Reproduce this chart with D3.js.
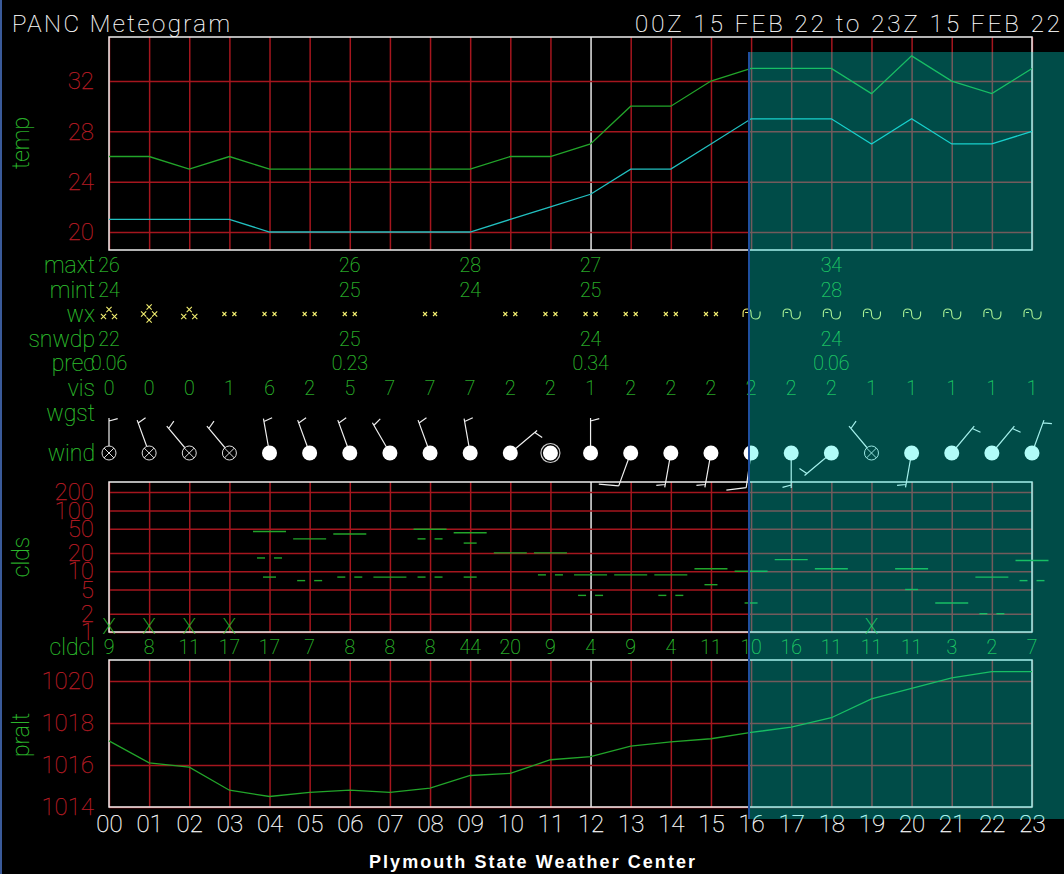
<!DOCTYPE html>
<html>
<head>
<meta charset="utf-8">
<script src="https://cdn.jsdelivr.net/npm/d3@7"></script>
<style>
html, body { margin: 0; padding: 0; background: #000; }
svg { display: block; }
text { font-family: Roboto, "Open Sans", sans-serif; font-weight: 100; }
.grid line { stroke: #a5161e; stroke-width: 1.5; }
.grid .noon line { stroke: #d8d8d8; stroke-width: 1.6; }
.grid .domain { display: none; }
.grid text { fill: #b81c24; font-size: 24px; stroke: #b81c24; stroke-width: 0.25; }
.grid.hours text { fill: #fff; stroke: #fff; }
.row { fill: #2fc02f; font-size: 19.5px; text-anchor: middle; stroke: #2fc02f; stroke-width: 0.2; }
.rowlabel { fill: #2fc02f; font-size: 23px; text-anchor: end; stroke: #2fc02f; stroke-width: 0.2; }
.title { fill: #fff; stroke: #fff; stroke-width: 0.2; font-size: 24px; }
.frame { fill: none; stroke: #eee; stroke-width: 1.5; }
</style>
</head>
<body>
<svg id="chart"></svg>
<script>
const width = 1064;
const height = 874;

const hours = d3.range(24);
const tempTicks = [20, 24, 28, 32];
const cloudTicks = [1, 2, 5, 10, 20, 50, 100, 200];
const presTicks = [1014, 1016, 1018, 1020];

const temp = [26, 26, 25, 26, 25, 25, 25, 25, 25, 25, 26, 26, 27, 30, 30, 32, 33, 33, 33, 31, 34, 32, 31, 33];
const dewp = [21, 21, 21, 21, 20, 20, 20, 20, 20, 20, 21, 22, 23, 25, 25, 27, 29, 29, 29, 27, 29, 27, 27, 28];
const pralt = [1017.15, 1016.1, 1015.9, 1014.8, 1014.5, 1014.7, 1014.8, 1014.7, 1014.9, 1015.5, 1015.6, 1016.25,
    1016.4, 1016.9, 1017.1, 1017.25, 1017.55, 1017.8, 1018.25, 1019.15, 1019.65, 1020.15, 1020.45, 1020.45];

const summaryHours = [0, 6, 9, 12, 18];
const maxt = ['26', '26', '28', '27', '34'];
const mint = ['24', '25', '24', '25', '28'];
const snwdpHours = [0, 6, 12, 18];
const snwdp = ['22', '25', '24', '24'];
const prec = ['0.06', '0.23', '0.34', '0.06'];

const wx = ['SN', '+SN', 'SN', '-SN', '-SN', '-SN', '-SN', '', '-SN', '', '-SN', '-SN', '-SN', '-SN', '-SN', '-SN',
    'FG', 'FG', 'FG', 'FG', 'FG', 'FG', 'FG', 'FG'];
const vis = [0, 0, 0, 1, 6, 2, 5, 7, 7, 7, 2, 2, 1, 2, 2, 2, 2, 2, 2, 1, 1, 1, 1, 1];
const cldcl = [9, 8, 11, 17, 17, 7, 8, 8, 8, 44, 20, 9, 4, 9, 4, 11, 10, 16, 11, 11, 11, 3, 2, 7];

const windDir = [360, 340, 320, 320, 350, 340, 340, 330, 340, 350, 50, 0, 360, 200, 190, 190, 188, 180, 230, 320, 190, 40, 40, 20];
const windSpd = [5, 5, 5, 5, 5, 5, 5, 5, 5, 5, 5, 0, 5, 10, 5, 5, 10, 5, 5, 5, 5, 5, 5, 5];
const obscured = [0, 1, 2, 3, 19];

const cloudHour = [4, 4, 4, 5, 5, 6, 6, 7, 8, 8, 8, 9, 9, 9, 10, 11, 11, 12, 12, 13, 14, 14, 15, 15, 16, 16, 17, 18, 20, 20, 21, 22, 22, 23, 23];
const cloudBase = [45, 16.5, 8, 34, 7, 41, 8, 8, 49, 34, 8, 43, 29, 8, 20, 20, 8.7, 8.7, 4, 8.7, 8.7, 4, 11, 6, 10, 3, 15.5, 11, 11, 5, 3, 8, 2, 15, 7];
const cloudCover = ['ovc', 'sct', 'few', 'ovc', 'sct', 'ovc', 'sct', 'ovc', 'ovc', 'sct', 'sct', 'ovc', 'few', 'few', 'ovc', 'ovc', 'sct', 'ovc', 'sct', 'ovc', 'ovc', 'sct',
    'ovc', 'few', 'ovc', 'few', 'ovc', 'ovc', 'ovc', 'few', 'ovc', 'ovc', 'sct', 'ovc', 'sct'];

const green = '#2fc02f';
const tempColor = '#22a52a';
const dewColor = '#22c0c0';
const flakeColor = '#f2ee70';

let svg = d3.select('#chart').attr('width', width).attr('height', height);

let xScale = d3.scaleLinear().domain([0, 23]).range([109, 1032]);
let tempScale = d3.scaleLinear().domain([18.57, 35.5]).range([250, 37]);
let cloudScale = d3.scaleLog().domain([1, 293]).range([632, 482]);
let presScale = d3.scaleLinear().domain([1014, 1021]).range([807, 660]);

let drawPanel = (yScale, ticks, format, showHours) => {
    let top = yScale.range()[1];
    let bottom = yScale.range()[0];
    let xAxis = d3.axisBottom(xScale)
        .tickValues(hours)
        .tickSize(-(bottom - top))
        .tickPadding(8)
        .tickFormat(showHours ? d3.format('02') : '');
    let gx = svg.append('g')
        .attr('class', showHours ? 'grid hours' : 'grid')
        .attr('transform', 'translate(0,' + bottom + ')')
        .call(xAxis);
    gx.selectAll('.tick').classed('noon', d => d === 12);

    let yAxis = d3.axisLeft(yScale)
        .tickValues(ticks)
        .tickSize(-(xScale.range()[1] - xScale.range()[0]))
        .tickPadding(15)
        .tickFormat(format);
    svg.append('g')
        .attr('class', 'grid')
        .attr('transform', 'translate(' + xScale.range()[0] + ',0)')
        .call(yAxis);

    svg.append('rect')
        .attr('class', 'frame')
        .attr('x', xScale.range()[0])
        .attr('y', top)
        .attr('width', xScale.range()[1] - xScale.range()[0])
        .attr('height', bottom - top);
};

let drawLine = (yScale, values, color) => {
    let line = d3.line().x((d, i) => xScale(i)).y(d => yScale(d));
    svg.append('path')
        .attr('d', line(values))
        .attr('fill', 'none')
        .attr('stroke', color)
        .attr('stroke-width', 1.3);
};

let drawRow = (label, y, rowHours, values) => {
    svg.append('text').attr('class', 'rowlabel').attr('x', 95).attr('y', y).attr('dy', '.35em').text(label);
    svg.selectAll(null)
        .data(values)
        .enter()
        .append('text')
        .attr('class', 'row')
        .attr('x', (d, i) => xScale(rowHours[i]))
        .attr('y', y)
        .attr('dy', '.35em')
        .text(d => d);
};

// snow flakes and fog curls in the wx row
let flakeSpots = {
    '-SN': [[-5, 0], [5, 0]],
    'SN': [[0, -4.5], [-5.5, 2.5], [5.5, 2.5]],
    '+SN': [[0, -7], [-5.5, 0], [5.5, 0], [0, 6]]
};

let drawWx = (y) => {
    svg.append('text').attr('class', 'rowlabel').attr('x', 95).attr('y', y).attr('dy', '.35em').text('wx');
    wx.forEach((code, i) => {
        let g = svg.append('g').attr('transform', 'translate(' + xScale(i) + ',' + y + ')');
        if (code === 'FG') {
            g.append('path')
                .attr('d', 'M-8,3V-1Q-8,-5 -4,-5Q0,-5 0,-1V0Q0,5 4.5,5Q9,5 9,0V-2.5M-6,-1.5L-3,-1.5')
                .attr('fill', 'none')
                .attr('stroke', flakeColor)
                .attr('stroke-width', 1.1);
        } else if (code !== '') {
            let r = code === '-SN' ? 2 : 2.6;
            flakeSpots[code].forEach(s => {
                g.append('path')
                    .attr('d', 'M' + -r + ',' + -r + 'L' + r + ',' + r + 'M' + -r + ',' + r + 'L' + r + ',' + -r)
                    .attr('transform', 'translate(' + s[0] + ',' + s[1] + ')')
                    .attr('stroke', flakeColor)
                    .attr('stroke-width', 1.1);
            });
        }
    });
};

let drawWind = (y) => {
    const staff = 35;
    svg.append('text').attr('class', 'rowlabel').attr('x', 95).attr('y', y).attr('dy', '.35em').text('wind');
    svg.append('text').attr('class', 'rowlabel').attr('x', 95).attr('y', 413).attr('dy', '.35em').text('wgst');
    hours.forEach(i => {
        let cx = xScale(i);
        let isObscured = obscured.includes(i);
        if (windSpd[i] > 0) {
            let a = windDir[i] * Math.PI / 180;
            let b = a + 75 * Math.PI / 180;
            let full = windSpd[i] >= 10;
            let barb = full ? 20 : 9;
            let back = full ? 0 : 3;
            let tipX = cx + staff * Math.sin(a);
            let tipY = y - staff * Math.cos(a);
            let startX = cx + (staff - back) * Math.sin(a);
            let startY = y - (staff - back) * Math.cos(a);
            let p = d3.path();
            p.moveTo(cx, y);
            p.lineTo(tipX, tipY);
            p.moveTo(startX, startY);
            p.lineTo(startX + barb * Math.sin(b), startY - barb * Math.cos(b));
            svg.append('path').attr('d', p.toString()).attr('fill', 'none').attr('stroke', '#eee').attr('stroke-width', 1.2);
        }
        svg.append('circle')
            .attr('cx', cx).attr('cy', y).attr('r', isObscured ? 7 : 7.5)
            .attr('fill', isObscured ? '#000' : '#fff')
            .attr('stroke', isObscured ? '#ddd' : 'none');
        if (isObscured) {
            let r = 5;
            svg.append('path')
                .attr('d', 'M' + (cx - r) + ',' + (y - r) + 'L' + (cx + r) + ',' + (y + r) + 'M' + (cx - r) + ',' + (y + r) + 'L' + (cx + r) + ',' + (y - r))
                .attr('stroke', '#ddd');
        }
        if (windSpd[i] === 0) {
            svg.append('circle').attr('cx', cx).attr('cy', y).attr('r', 9.5).attr('fill', 'none').attr('stroke', '#ccc').attr('stroke-width', 1.2);
        }
    });
};

let drawClouds = () => {
    let segments = {
        ovc: [[-16.5, 16.5]],
        sct: [[-12.5, -4.5], [4.5, 12.5]],
        few: [[-6.5, 6.5]]
    };
    cloudHour.forEach((h, i) => {
        segments[cloudCover[i]].forEach(s => {
            svg.append('line')
                .attr('x1', xScale(h) + s[0])
                .attr('x2', xScale(h) + s[1])
                .attr('y1', cloudScale(cloudBase[i]))
                .attr('y2', cloudScale(cloudBase[i]))
                .attr('stroke', tempColor)
                .attr('stroke-width', 1.4);
        });
    });
    svg.selectAll(null)
        .data(obscured)
        .enter()
        .append('text')
        .attr('x', d => xScale(d))
        .attr('y', cloudScale(1) + 2)
        .attr('text-anchor', 'middle')
        .attr('font-size', 22)
        .attr('fill', green)
        .attr('stroke', green)
        .attr('stroke-width', 0.2)
        .text('X');
};

let drawTitles = () => {
    svg.append('text').attr('class', 'title').attr('x', 12).attr('y', 32)
        .attr('textLength', 218).text('PANC Meteogram');
    svg.append('text').attr('class', 'title').attr('x', 635).attr('y', 32)
        .attr('textLength', 425).text('00Z 15 FEB 22 to 23Z 15 FEB 22');
    svg.append('text').attr('x', 369).attr('y', 868).attr('font-size', 18).attr('fill', '#fff')
        .style('font-family', '"Liberation Sans", Arial, sans-serif').style('font-weight', 700)
        .attr('textLength', 326).text('Plymouth State Weather Center');

    [['temp', 143], ['clds', 557], ['pralt', 735]].forEach(t => {
        svg.append('text')
            .attr('class', 'rowlabel')
            .style('text-anchor', 'middle')
            .attr('transform', 'translate(29,' + t[1] + ') rotate(-90)')
            .text(t[0]);
    });
};

let drawOverlay = () => {
    svg.append('rect').attr('x', 749).attr('y', 52).attr('width', width - 749).attr('height', 767)
        .attr('fill', 'rgb(0,245,232)').attr('fill-opacity', 0.31);
    svg.append('line').attr('x1', 749).attr('x2', 749).attr('y1', 52).attr('y2', 819)
        .attr('stroke', '#1f4f9f').attr('stroke-width', 2);
    svg.append('rect').attr('x', 0).attr('y', 0).attr('width', 2).attr('height', height).attr('fill', '#3a5a9a');
};

drawPanel(tempScale, tempTicks, d3.format('d'), false);
drawPanel(cloudScale, cloudTicks, d3.format('d'), false);
drawPanel(presScale, presTicks, d3.format('d'), true);
drawLine(tempScale, temp, tempColor);
drawLine(tempScale, dewp, dewColor);
drawLine(presScale, pralt, tempColor);
drawRow('maxt', 265, summaryHours, maxt);
drawRow('mint', 290, summaryHours, mint);
drawWx(314);
drawRow('snwdp', 339, snwdpHours, snwdp);
drawRow('prec', 363, snwdpHours, prec);
drawRow('vis', 388, hours, vis);
drawWind(453);
drawClouds();
drawRow('cldcl', 647, hours, cldcl);
drawTitles();
drawOverlay();
</script>
</body>
</html>
